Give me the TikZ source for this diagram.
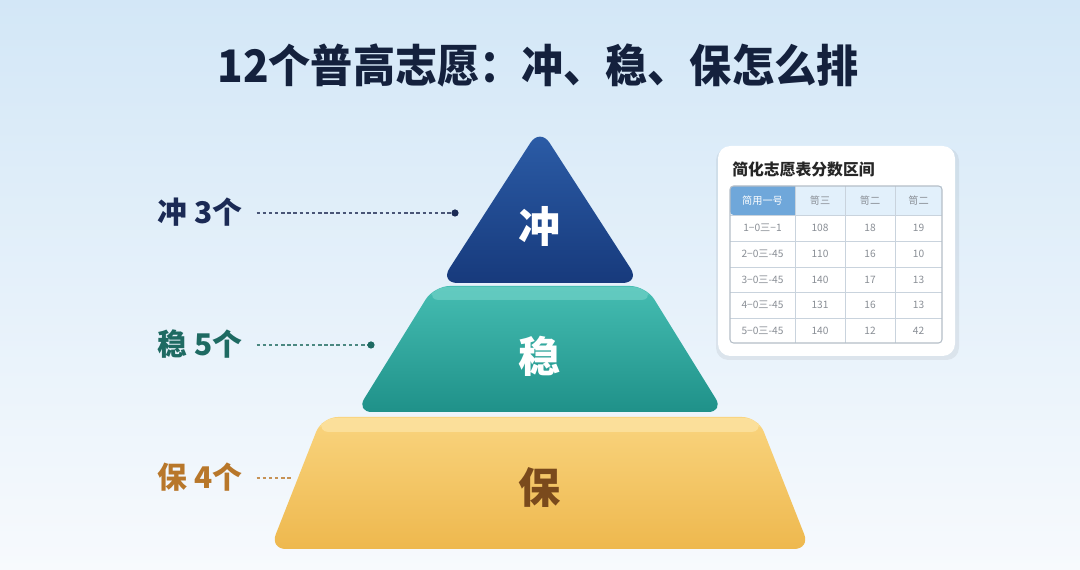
\documentclass[tikz,border=0pt]{standalone}
\usepackage{fontspec}
\setmainfont{Noto Sans CJK SC}
\usetikzlibrary{shadows,calc}
\definecolor{bgtop}{HTML}{D3E7F7}
\definecolor{bgbot}{HTML}{F7FAFD}
\definecolor{titlec}{HTML}{14213D}
\definecolor{navyA}{HTML}{2C5DA8}
\definecolor{navyB}{HTML}{173A7C}
\definecolor{tealA}{HTML}{45BDB2}
\definecolor{tealB}{HTML}{1F9189}
\definecolor{tealTop}{HTML}{6FD0C6}
\definecolor{yelA}{HTML}{F9D47E}
\definecolor{yelB}{HTML}{EEB84E}
\definecolor{yelTop}{HTML}{FCE3A2}
\definecolor{chongc}{HTML}{1B2A55}
\definecolor{wenc}{HTML}{1E6A62}
\definecolor{baoc}{HTML}{B8772A}
\definecolor{baoin}{HTML}{7A4A1C}
\definecolor{hdrblue}{HTML}{6FA7DA}
\definecolor{hdrlight}{HTML}{E2F0FB}
\definecolor{gridc}{HTML}{C9D3DD}
\definecolor{cellt}{HTML}{8A8F96}
\tikzset{
  sidelabel/.style={font=\fontsize{17}{20}\selectfont\bfseries, anchor=west, inner sep=0pt},
  layertext/.style={font=\fontsize{24}{28}\selectfont\bfseries, inner sep=0pt},
  leader/.style={dashed, dash pattern=on 2pt off 1.5pt, line width=0.6pt},
  cell/.style={font=\fontsize{5.8}{7}\selectfont, text=cellt, inner sep=0pt},
}
\begin{document}
\begin{tikzpicture}[x=0.02cm,y=-0.02cm]
\useasboundingbox (0,0) rectangle (1080,570);
\shade[top color=bgtop, bottom color=bgbot] (0,0) rectangle (1080,570);

% title
\node[font=\fontsize{25.5}{30}\selectfont\bfseries, text=titlec, inner sep=0pt, xscale=0.94] (title) at (538,66) {12个普高志愿：冲、稳、保怎么排};

% bottom layer (保)
\shade[rounded corners=9pt, top color=yelA, bottom color=yelB] (322,417) -- (758,417) -- (810,549) -- (270,549) -- cycle;
\fill[yelTop, rounded corners=6pt, opacity=0.8] (324,418) -- (756,418) -- (762,432) -- (318,432) -- cycle;
\node[layertext, text=baoin] (bao) at (540,488) {保};

% middle layer (稳)
\shade[rounded corners=9pt, top color=tealA, bottom color=tealB] (434,286) -- (646,286) -- (724,412) -- (356,412) -- cycle;
\fill[tealTop, rounded corners=6pt, opacity=0.7] (436,287) -- (644,287) -- (652,300) -- (428,300) -- cycle;
\node[layertext, text=white] (wen) at (540,356) {稳};

% top layer (冲)
\shade[rounded corners=10pt, top color=navyA, bottom color=navyB] (540,128) -- (640,283) -- (440,283) -- cycle;
\node[layertext, text=white] (chong) at (540,226) {冲};

% side labels
\node[sidelabel, text=chongc] (l1) at (157,212) {冲 3个};
\node[sidelabel, text=wenc] (l2) at (157,344) {稳 5个};
\node[sidelabel, text=baoc] (l3) at (157,477) {保 4个};
\coordinate (d1) at (455,213);
\coordinate (d2) at (371,345);
\coordinate (d3) at (292,478);
\draw[leader, draw=chongc!80] ([xshift=8pt]l1.east |- d1) -- (d1);
\fill[chongc] (d1) circle (3.6);
\draw[leader, draw=wenc!80] ([xshift=8pt]l2.east |- d2) -- (d2);
\fill[wenc] (d2) circle (3.6);
\draw[leader, draw=baoc!80] ([xshift=8pt]l3.east |- d3) -- (d3);

% table card
\fill[black, opacity=0.06, rounded corners=7pt] (716,148) rectangle (959,360);
\fill[white, rounded corners=7pt] (718,146) rectangle (955,356);
\node[font=\fontsize{9}{11}\selectfont\bfseries, text=black!85, anchor=west, inner sep=0pt] (ttitle) at (732,170) {简化志愿表分数区间};

% header
\fill[hdrlight] (795,186) rectangle (942,215);
\fill[hdrblue, rounded corners=2pt] (730,186) rectangle (795,215);
\fill[hdrblue] (760,186) rectangle (795,215);
\fill[white] (730,215) rectangle (942,343);
% grid
\foreach \yy in {215,241,267,292,318}
  \draw[gridc, line width=0.5pt] (730,\yy) -- (942,\yy);
\foreach \xx in {795,845,895}
  \draw[gridc, line width=0.5pt] (\xx,186) -- (\xx,343);
\draw[gridc!90!black, line width=0.6pt, rounded corners=2pt] (730,186) rectangle (942,343);

\node[cell, text=white] (h1) at (762.5,200.5) {简用一号};
\node[cell] (h2) at (820,200.5) {笥三};
\node[cell] (h3) at (870,200.5) {笥二};
\node[cell] (h4) at (918.5,200.5) {笥二};

\foreach \r/\yc/\a/\b/\c/\d in {1/228/1−0三−1/108/18/19, 2/254/2−0三-45/110/16/10, 3/279.5/3−0三-45/140/17/13, 4/305/4−0三-45/131/16/13, 5/330.5/5−0三-45/140/12/42}{
  \node[cell] (r\r c1) at (762.5,\yc) {\a};
  \node[cell] (r\r c2) at (820,\yc) {\b};
  \node[cell] (r\r c3) at (870,\yc) {\c};
  \node[cell] (r\r c4) at (918.5,\yc) {\d};
}
\end{tikzpicture}
\end{document}
